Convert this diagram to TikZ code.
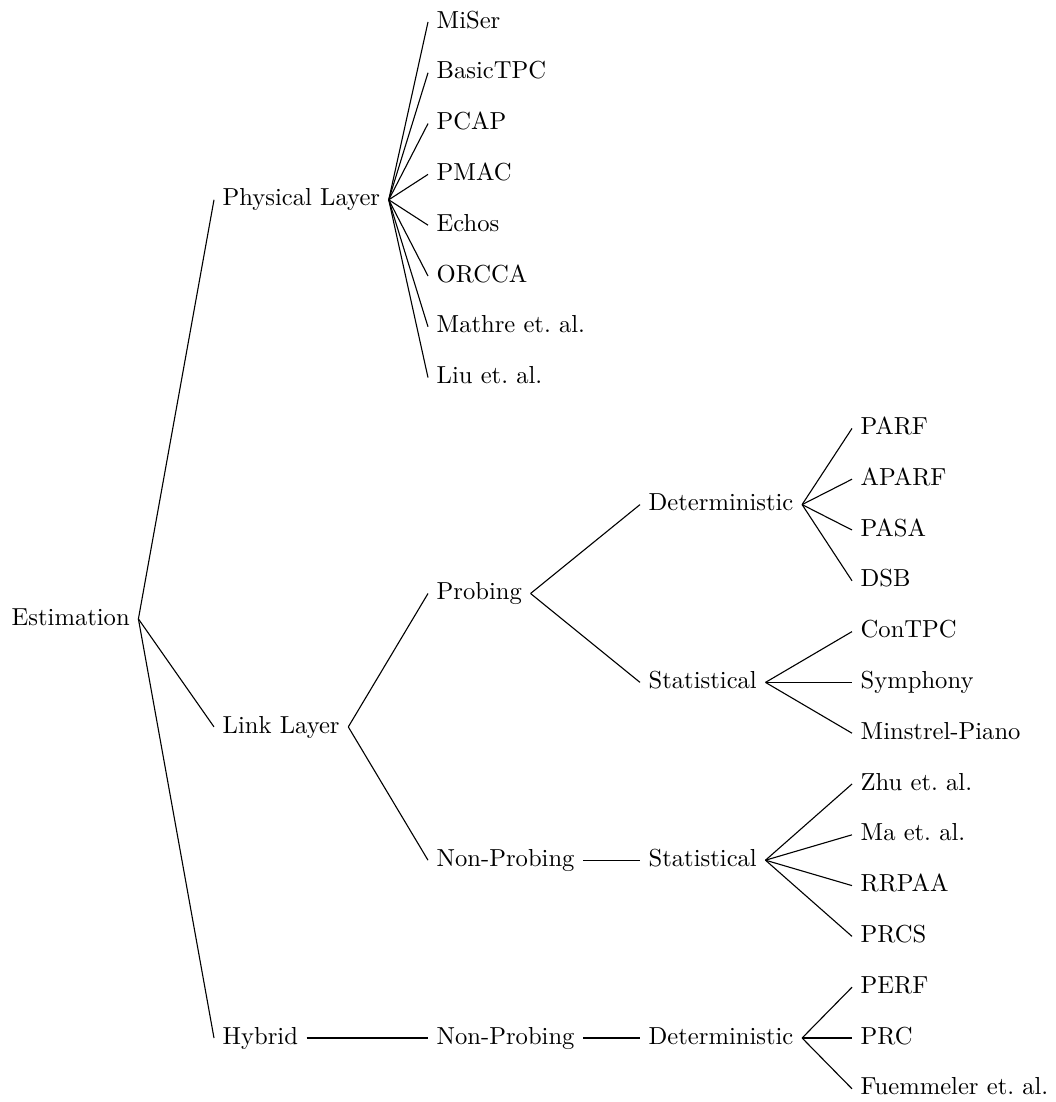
\documentclass[tikz,border=0pt]{standalone}
\usepackage{tikz}
\tikzset{
  item/.style={anchor=west, inner sep=3.33pt, text height=6.9pt, text depth=1.9pt, font=\normalsize},
  link/.style={draw=black, line width=0.45pt}
}
\begin{document}
\begin{tikzpicture}[x=0.4065pt,y=-0.4065pt]
\useasboundingbox (0,0) rectangle (1055,1102);

% root and first level
\node[item] (est)  at (3,618.9)   {Estimation};
\node[item] (phy)  at (214,199.8) {Physical Layer};
\node[item] (lnk)  at (214,726.9) {Link Layer};
\node[item] (hyb)  at (214,1038)  {Hybrid};

% second level
\node[item] (prb)  at (428,593.5)  {Probing};
\node[item] (npl)  at (428,860.2)  {Non-Probing};
\node[item] (nph)  at (428,1038)   {Non-Probing};

% physical layer schemes
\node[item] (miser)  at (428,22)    {MiSer};
\node[item] (btpc)   at (428,72.8)  {BasicTPC};
\node[item] (pcap)   at (428,123.6) {PCAP};
\node[item] (pmac)   at (428,174.4) {PMAC};
\node[item] (echos)  at (428,225.2) {Echos};
\node[item] (orcca)  at (428,276)   {ORCCA};
\node[item] (mathre) at (428,326.8) {Mathre et.\ al.};
\node[item] (liu)    at (428,377.6) {Liu et.\ al.};

% third level
\node[item] (detp) at (640,504.6) {Deterministic};
\node[item] (stap) at (640,682.4) {Statistical};
\node[item] (stan) at (640,860.2) {Statistical};
\node[item] (deth) at (640,1038)  {Deterministic};

% fourth level
\node[item] (parf)  at (852,428.4)  {PARF};
\node[item] (aparf) at (852,479.2)  {APARF};
\node[item] (pasa)  at (852,530)    {PASA};
\node[item] (dsb)   at (852,580.8)  {DSB};
\node[item] (ctpc)  at (852,631.6)  {ConTPC};
\node[item] (symph) at (852,682.4)  {Symphony};
\node[item] (minst) at (852,733.2)  {Minstrel-Piano};
\node[item] (zhu)   at (852,784)    {Zhu et.\ al.};
\node[item] (ma)    at (852,834.8)  {Ma et.\ al.};
\node[item] (rrpaa) at (852,885.6)  {RRPAA};
\node[item] (prcs)  at (852,936.4)  {PRCS};
\node[item] (perf)  at (852,987.2)  {PERF};
\node[item] (prc)   at (852,1038)   {PRC};
\node[item] (fuem)  at (852,1088.8) {Fuemmeler et.\ al.};

% edges
\foreach \c in {phy,lnk,hyb} \draw[link] (est.east) -- (\c.west);
\foreach \c in {miser,btpc,pcap,pmac,echos,orcca,mathre,liu} \draw[link] (phy.east) -- (\c.west);
\foreach \c in {prb,npl} \draw[link] (lnk.east) -- (\c.west);
\draw[link] (hyb.east) -- (nph.west);
\foreach \c in {detp,stap} \draw[link] (prb.east) -- (\c.west);
\draw[link] (npl.east) -- (stan.west);
\draw[link] (nph.east) -- (deth.west);
\foreach \c in {parf,aparf,pasa,dsb} \draw[link] (detp.east) -- (\c.west);
\foreach \c in {ctpc,symph,minst} \draw[link] (stap.east) -- (\c.west);
\foreach \c in {zhu,ma,rrpaa,prcs} \draw[link] (stan.east) -- (\c.west);
\foreach \c in {perf,prc,fuem} \draw[link] (deth.east) -- (\c.west);
\end{tikzpicture}
\end{document}
